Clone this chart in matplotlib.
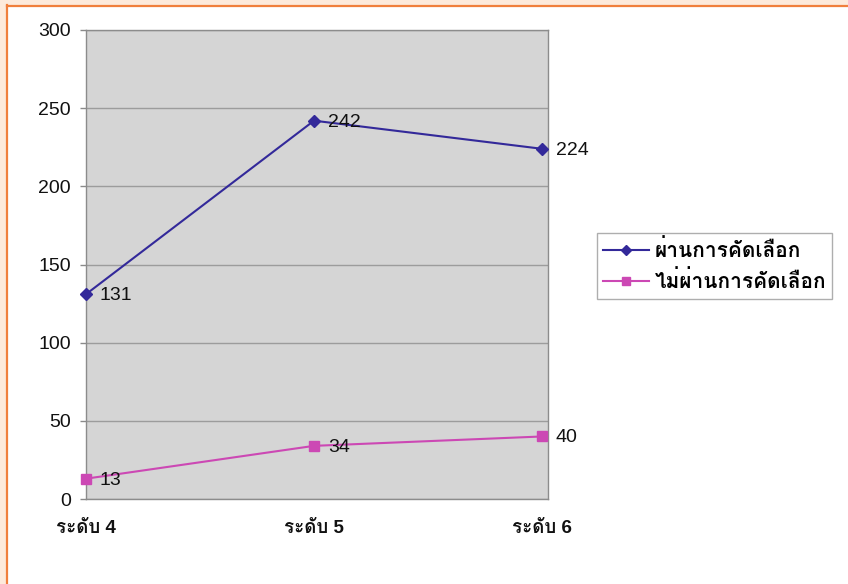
import matplotlib
matplotlib.use("Agg")
import matplotlib.pyplot as plt
from matplotlib import font_manager
from matplotlib.ft2font import FT2Font
from matplotlib.patches import Rectangle
from matplotlib.lines import Line2D

# ---- data ----
categories = ["ระดับ 4", "ระดับ 5", "ระดับ 6"]
passed = [131, 242, 224]
failed = [13, 34, 40]
series_names = ["ผ่านการคัดเลือก", "ไม่ผ่านการคัดเลือก"]
y_ticks = [0, 50, 100, 150, 200, 250, 300]


def find_thai_font():
    preferred = []
    others = []
    for f in font_manager.fontManager.ttflist:
        try:
            cmap = FT2Font(f.fname).get_charmap()
        except Exception:
            continue
        if 0x0E01 in cmap and 0x0E31 in cmap:
            if any(k in f.name for k in ("Sans", "Loma", "Garuda", "Kinnari", "Tahoma", "Leelawadee")):
                preferred.append(f.name)
            else:
                others.append(f.name)
    for n in preferred + others:
        return n
    return None


thai = find_thai_font()
families = ["Liberation Sans"] + ([thai] if thai else []) + ["DejaVu Sans"]
plt.rcParams["font.family"] = families

W, H = 848, 584
fig = plt.figure(figsize=(W / 100, H / 100), dpi=100)
fig.patch.set_facecolor("white")

# decorative page frame (peach band + orange rule on top and left)
peach = "#FDEADB"
orange = "#F07F3C"
fig.patches.append(Rectangle((0, 0), 6 / W, 1, transform=fig.transFigure,
                             facecolor=peach, edgecolor="none", zorder=0))
fig.patches.append(Rectangle((0, 1 - 5 / H), 1, 5 / H, transform=fig.transFigure,
                             facecolor=peach, edgecolor="none", zorder=0))
fig.lines.append(Line2D([6.5 / W, 6.5 / W], [0, 1 - 5 / H], transform=fig.transFigure,
                        color=orange, linewidth=1.6))
fig.lines.append(Line2D([6.5 / W, 1], [1 - 5.5 / H, 1 - 5.5 / H], transform=fig.transFigure,
                        color=orange, linewidth=1.6))

ax = fig.add_axes([86 / W, (H - 499) / H, 462 / W, 469 / H])
ax.set_facecolor("#D5D5D5")

x = list(range(len(categories)))
c_pass = "#33299A"
c_fail = "#CC48B4"
ax.plot(x, passed, color=c_pass, linewidth=1.5, marker="D", markersize=6,
        markerfacecolor=c_pass, markeredgecolor=c_pass, clip_on=False, zorder=4,
        label=series_names[0])
ax.plot(x, failed, color=c_fail, linewidth=1.5, marker="s", markersize=6.5,
        markerfacecolor=c_fail, markeredgecolor=c_fail, clip_on=False, zorder=4,
        label=series_names[1])

for series in (passed, failed):
    for xi, v in zip(x, series):
        ax.annotate(str(v), (xi, v), xytext=(10, -1), textcoords="offset points",
                    ha="left", va="center", fontsize=14, color="#111111", zorder=5)

ax.set_xlim(0, 2.026)
ax.set_ylim(0, 300)
ax.set_yticks(y_ticks)
ax.set_yticklabels([str(t) for t in y_ticks], fontsize=14, color="#111111")
ax.set_xticks(x)
ax.set_xticklabels(categories, fontsize=13.5, color="#111111", fontweight="bold")
ax.tick_params(axis="y", length=4, width=1, color="#8A8A8A", pad=7)
ax.tick_params(axis="x", length=0, pad=15)
ax.grid(axis="y", color="#9C9C9C", linewidth=1)
ax.set_axisbelow(True)
for s in ax.spines.values():
    s.set_color("#8C8C8C")
    s.set_linewidth(1)

leg = fig.legend(loc="upper left", bbox_to_anchor=(597 / W, 1 - 233 / H),
                 prop={"size": 15, "weight": "bold"}, frameon=True, fancybox=False,
                 handlelength=2.2, handletextpad=0.25, borderpad=0.3,
                 labelspacing=0.45, borderaxespad=0, markerscale=0.85)
leg.get_frame().set_edgecolor("#9A9A9A")
leg.get_frame().set_linewidth(1)

fig.savefig("out.png", dpi=100)
